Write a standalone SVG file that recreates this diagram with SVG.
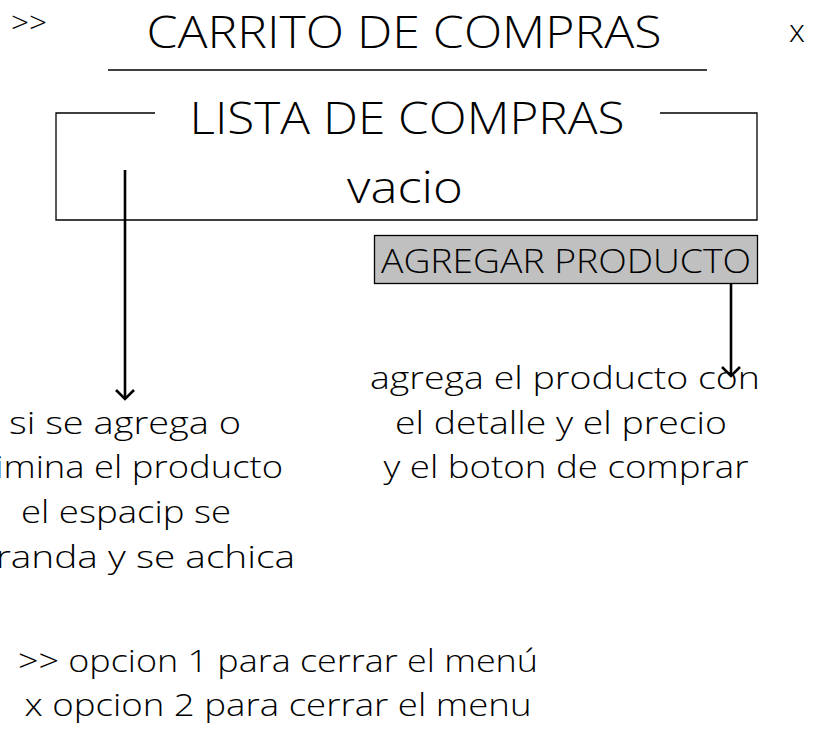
<svg xmlns="http://www.w3.org/2000/svg" width="840" height="744" viewBox="0 0 840 744">
<style>
text{font-family:"Open Sans","Noto Sans","Liberation Sans",sans-serif;fill:#000;font-weight:300}
.t{font-size:44px;text-anchor:middle}
.m{font-size:32px;text-anchor:middle}
.b{font-size:33px;text-anchor:middle}
.s{font-size:30px}
.ln{stroke:#000;stroke-width:1.3;fill:none}
.ar{stroke:#000;stroke-width:2.6;fill:none}
</style>
<defs>
<marker id="ah" viewBox="-12 -12 14 24" refX="0" refY="0" markerWidth="14" markerHeight="24" markerUnits="userSpaceOnUse" orient="auto">
<polyline points="-9,-9 0,0 -9,9" fill="none" stroke="#000" stroke-width="2.6"/>
</marker>
</defs>
<rect width="840" height="744" fill="#fff"/>
<g id="header">
<text class="s" x="11" y="33" textLength="36" lengthAdjust="spacingAndGlyphs">&gt;&gt;</text>
<text class="t" x="404" y="48" textLength="515" lengthAdjust="spacingAndGlyphs">CARRITO DE COMPRAS</text>
<text x="797" y="42" style="font-size:32px;text-anchor:middle">x</text>
<line class="ln" x1="108" y1="70" x2="707" y2="70"/>
</g>
<g id="lista">
<path class="ln" d="M155 113 H56 V220 H757 V113 H660"/>
<text class="t" x="407" y="134" textLength="435" lengthAdjust="spacingAndGlyphs">LISTA DE COMPRAS</text>
<text class="t" x="405" y="203" textLength="116" lengthAdjust="spacingAndGlyphs">vacio</text>
</g>
<g id="agregar">
<rect x="374.5" y="235.5" width="383" height="48" fill="#c0c0c0" stroke="#000" stroke-width="1.3"/>
<text class="b" x="566" y="273" textLength="370" lengthAdjust="spacingAndGlyphs">AGREGAR PRODUCTO</text>
</g>
<g id="nota-derecha">
<text class="m" x="565" y="389" textLength="390" lengthAdjust="spacingAndGlyphs">agrega el producto con</text>
<text class="m" x="561" y="434" textLength="332" lengthAdjust="spacingAndGlyphs">el detalle y el precio</text>
<text class="m" x="566" y="478" textLength="365" lengthAdjust="spacingAndGlyphs">y el boton de comprar</text>
</g>
<g id="nota-izquierda">
<text class="m" x="125" y="434" textLength="232" lengthAdjust="spacingAndGlyphs">si se agrega o</text>
<text class="m" x="125" y="478" textLength="316" lengthAdjust="spacingAndGlyphs">elimina el producto</text>
<text class="m" x="126" y="523" textLength="210" lengthAdjust="spacingAndGlyphs">el espacip se</text>
<text class="m" x="125" y="568" textLength="340" lengthAdjust="spacingAndGlyphs">agranda y se achica</text>
</g>
<g id="leyenda">
<text class="m" x="278" y="672" textLength="520" lengthAdjust="spacingAndGlyphs">&gt;&gt; opcion 1 para cerrar el menú</text>
<text class="m" x="278" y="716" textLength="507" lengthAdjust="spacingAndGlyphs">x opcion 2 para cerrar el menu</text>
</g>
<g id="connectors">
<line class="ar" x1="125" y1="170" x2="125" y2="399" marker-end="url(#ah)"/>
<line class="ar" x1="731" y1="284" x2="731" y2="376" marker-end="url(#ah)"/>
</g>
</svg>
